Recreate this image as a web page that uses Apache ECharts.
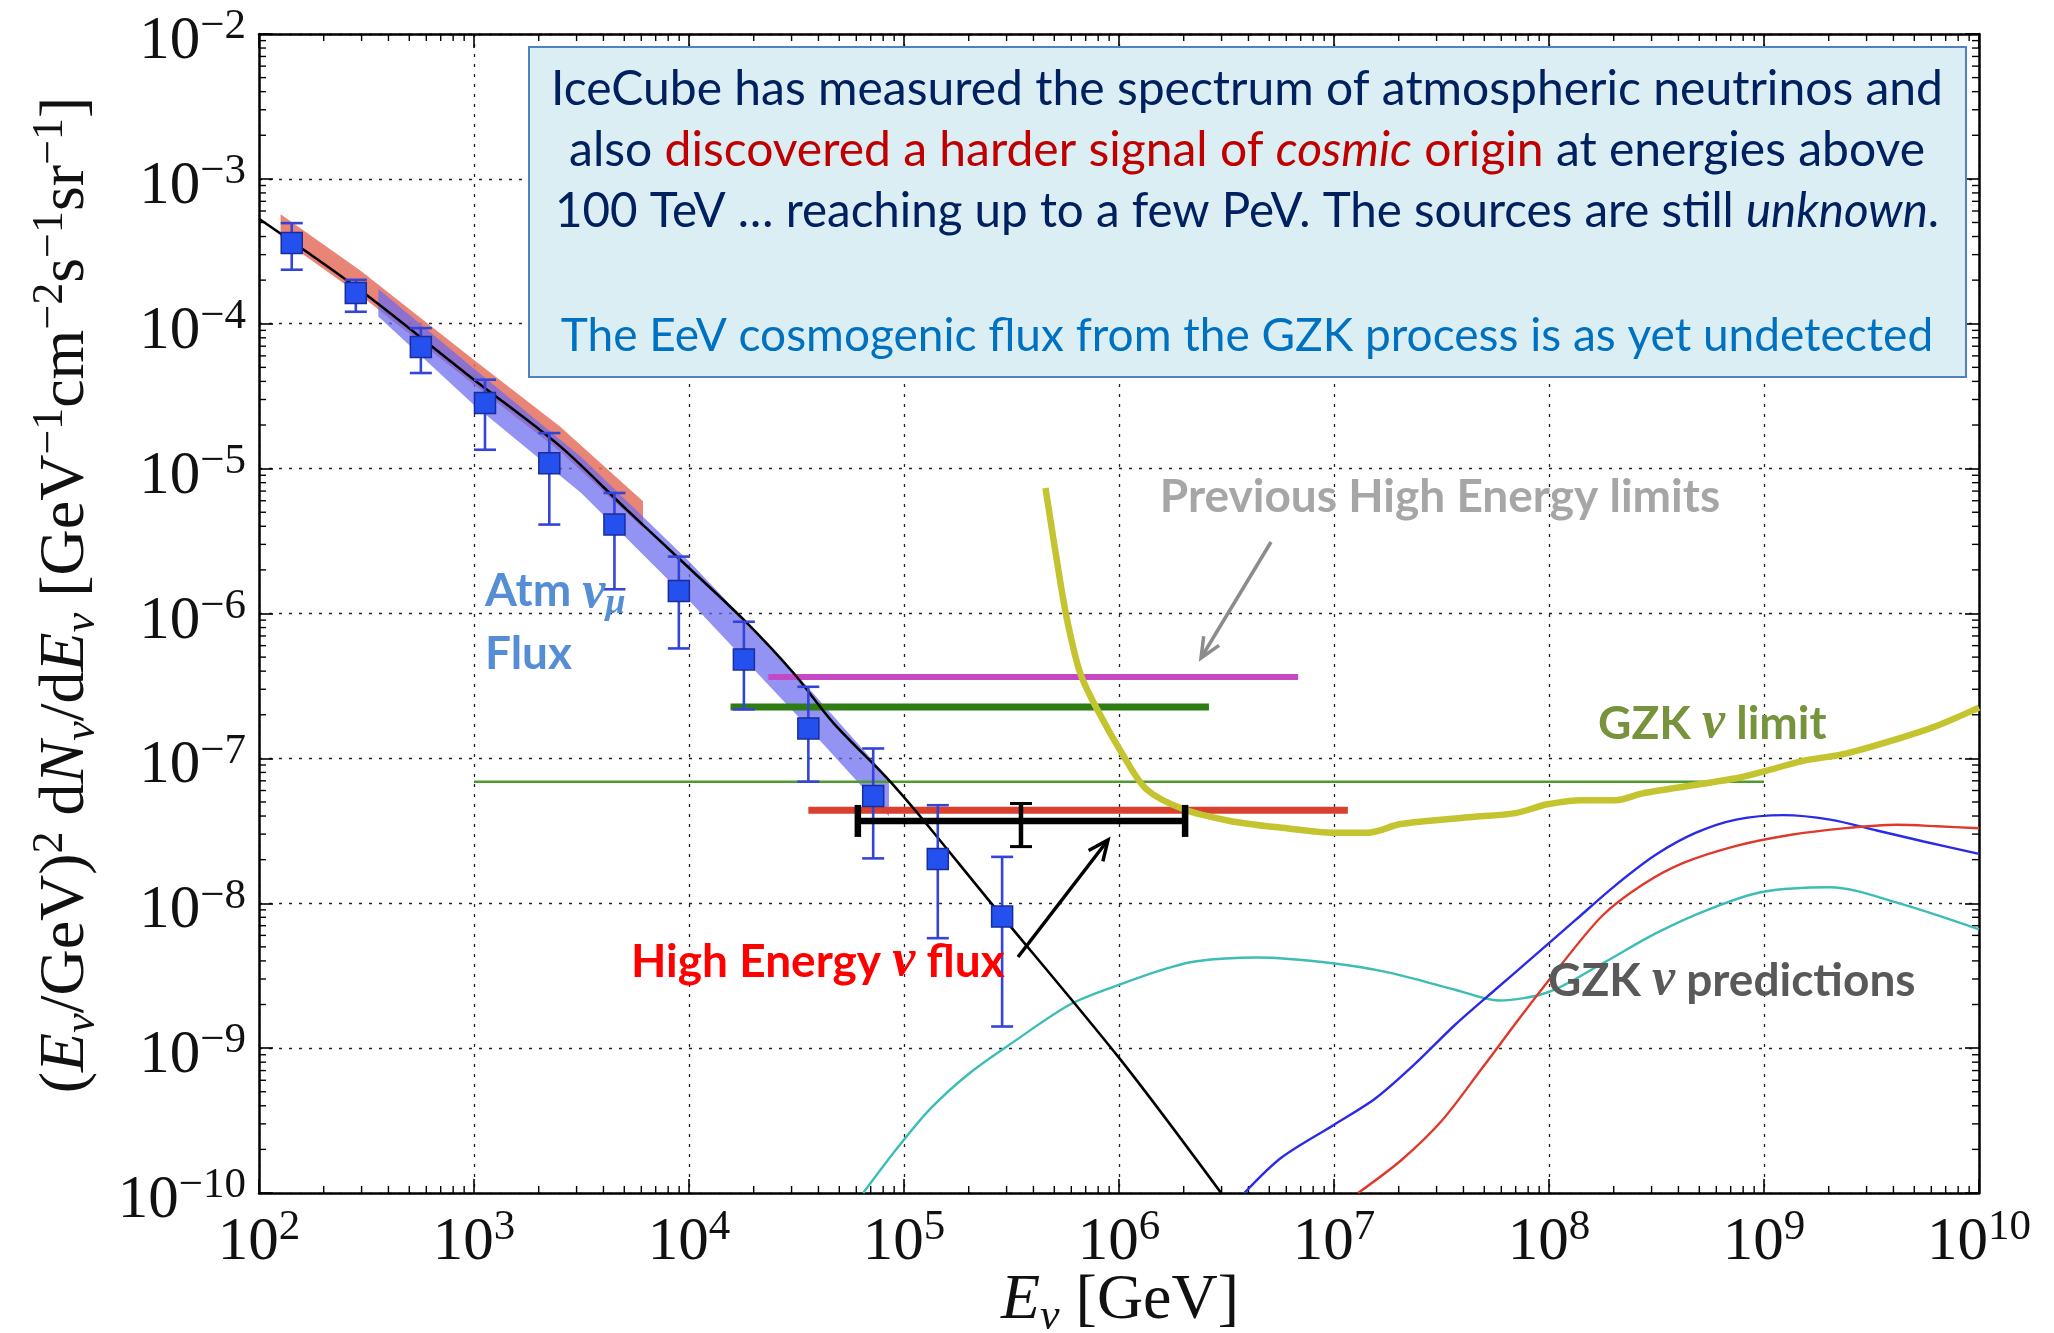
<!DOCTYPE html>
<html>
<head>
<meta charset="utf-8">
<script src="https://cdn.jsdelivr.net/npm/echarts@6/dist/echarts.min.js"></script>
<style>
  html, body { margin: 0; padding: 0; background: #ffffff; }
  #chart { width: 2054px; height: 1333px; }
</style>
</head>
<body>
<div id="chart"></div>
<script>
// Energies in GeV, fluxes as E^2 dN/dE in GeV cm^-2 s^-1 sr^-1

// IceCube unfolded atmospheric numu spectrum
const atmEnergy   = [142, 282, 566, 1125, 2240, 4500, 8970, 18000, 35900, 71900, 143600, 286000];
const atmFlux     = [3.61e-4, 1.63e-4, 6.9e-5, 2.84e-5, 1.09e-5, 4.11e-6, 1.43e-6, 4.82e-7, 1.61e-7, 5.5e-8, 2.02e-8, 8.09e-9];
const atmFluxLow  = [2.36e-4, 1.21e-4, 4.57e-5, 1.35e-5, 4.11e-6, 1.47e-6, 5.74e-7, 2.18e-7, 6.9e-8, 2.04e-8, 5.74e-9, 1.41e-9];
const atmFluxHigh = [4.95e-4, 2.01e-4, 9.33e-5, 4.11e-5, 1.76e-5, 6.79e-6, 2.47e-6, 8.77e-7, 3.12e-7, 1.17e-7, 4.75e-8, 2.09e-8];

// conventional atmospheric model (black curve)
const modelEnergy = [100, 295, 1000, 2512, 5129, 9078, 17910, 30550, 46880, 82990, 118600, 242700, 1.012e6, 2.985e6];
const modelFlux   = [5.31e-4, 1.71e-4, 4.11e-5, 1.43e-5, 5.21e-6, 2.36e-6, 9.10e-7, 3.90e-7, 1.76e-7, 7.36e-8, 4.0e-8, 1.09e-8, 8.39e-10, 1.0e-10];

// earlier unfolding bands (red) and IceCube-40 band (blue)
const redBandEnergy = [126, 295, 1000, 2512, 6110];
const redBandLow    = [3.89e-4, 1.58e-4, 3.80e-5, 1.32e-5, 3.89e-6];
const redBandHigh   = [5.70e-4, 2.34e-4, 5.61e-5, 1.95e-5, 5.96e-6];
const blueBandEnergy = [359, 1000, 3162, 10000, 31620, 85110];
const blueBandLow    = [1.12e-4, 2.75e-5, 6.76e-6, 1.23e-6, 2.0e-7, 3.98e-8];
const blueBandHigh   = [1.74e-4, 4.90e-5, 1.20e-5, 2.29e-6, 3.80e-7, 7.24e-8];

// previous high-energy limits: magenta, dark green, thin green, red
const limitLevel = [3.64e-7, 2.26e-7, 6.9e-8, 4.38e-8];
const limitEmin  = [2.34e4, 1.56e4, 1e3, 3.59e4];
const limitEmax  = [6.81e6, 2.62e6, 1e9, 1.16e7];

// high-energy astrophysical flux: level, energy range, central energy and vertical error
const heFlux = [3.70e-8];
const heEmin = [6.1e4];
const heEmax = [2.03e6];
const heEmid = [3.5e5];
const heFluxLow  = [2.46e-8];
const heFluxHigh = [4.88e-8];

// GZK neutrino limit (yellow)
const gzkLimitEnergy = [4.55e5, 5.22e5, 5.73e5, 6.59e5, 7.91e5, 1.045e6, 1.343e6, 2.0e6, 3.28e6, 5.61e6, 1.0e7, 1.445e7, 2.04e7, 4.23e7, 6.98e7, 9.84e7, 1.429e8, 2.05e8, 2.72e8, 4.83e8, 7.43e8, 9.89e8, 1.52e9, 2.34e9, 4.15e9, 6.38e9, 1.0e10];
const gzkLimitFlux   = [7.36e-6, 2.01e-6, 9.10e-7, 3.90e-7, 2.18e-7, 1.05e-7, 6.11e-8, 4.45e-8, 3.70e-8, 3.33e-8, 3.07e-8, 3.07e-8, 3.52e-8, 3.92e-8, 4.19e-8, 4.82e-8, 5.15e-8, 5.15e-8, 5.73e-8, 6.58e-8, 7.29e-8, 8.09e-8, 9.62e-8, 1.07e-7, 1.36e-7, 1.68e-7, 2.24e-7];

// GZK neutrino predictions
const gzkBlueEnergy = [3.83e6, 5.68e6, 9.93e6, 1.55e7, 2.38e7, 3.66e7, 5.62e7, 8.65e7, 1.33e8, 2.05e8, 3.15e8, 4.83e8, 7.43e8, 1.23e9, 2.03e9, 3.35e9, 5.53e9, 1.0e10];
const gzkBlueFlux   = [1e-10, 1.75e-10, 2.94e-10, 4.47e-10, 7.78e-10, 1.45e-9, 2.53e-9, 4.40e-9, 7.67e-9, 1.34e-8, 2.17e-8, 3.07e-8, 3.78e-8, 4.06e-8, 3.78e-8, 3.18e-8, 2.67e-8, 2.19e-8];
const gzkRedEnergy = [1.294e7, 2.06e7, 3.17e7, 4.88e7, 7.50e7, 1.151e8, 1.77e8, 2.72e8, 4.19e8, 7.43e8, 1.318e9, 2.34e9, 4.15e9, 6.38e9, 1.0e10];
const gzkRedFlux   = [1e-10, 1.69e-10, 3.15e-10, 7.26e-10, 1.70e-9, 3.84e-9, 8.20e-9, 1.34e-8, 1.89e-8, 2.49e-8, 2.96e-8, 3.29e-8, 3.48e-8, 3.40e-8, 3.29e-8];
const gzkCyanEnergy = [6.46e4, 9.23e4, 1.321e5, 2.03e5, 3.22e5, 5.92e5, 1.012e6, 1.585e6, 2.29e6, 4.37e6, 1.007e7, 1.786e7, 3.66e7, 5.83e7, 9.98e7, 1.77e8, 3.15e8, 5.58e8, 9.91e8, 2.03e9, 4.15e9, 1.0e10];
const gzkCyanFlux   = [1e-10, 2.01e-10, 3.79e-10, 6.76e-10, 1.10e-9, 2.0e-9, 2.75e-9, 3.47e-9, 3.98e-9, 4.22e-9, 3.84e-9, 3.33e-9, 2.53e-9, 2.13e-9, 2.44e-9, 3.84e-9, 6.22e-9, 9.12e-9, 1.20e-8, 1.29e-8, 1.01e-8, 6.61e-9];

// axis ranges (decades)
const xExpMin = 2, xExpMax = 10;
const yExpMin = -10, yExpMax = -2;

const zip = (a, b) => a.map((v, i) => [v, b[i]]);

// minor tick values 2..9 x 10^k
function minorValues(e0, e1) {
  const out = [];
  for (let e = e0; e < e1; e++) for (let m = 2; m <= 9; m++) out.push(m * Math.pow(10, e));
  return out;
}
const xMinor = minorValues(xExpMin, xExpMax);
const yMinor = minorValues(yExpMin, yExpMax);

const SERIF = 'Liberation Serif';
const SANS = 'Lato';

function powLabel(v) {
  const e = Math.round(Math.log10(v));
  return '{b|10}{s|' + String(e).replace('-', '\u2212') + '}';
}
const tickRich = {
  b: { fontFamily: SERIF, fontSize: 61, color: '#111', lineHeight: 67, verticalAlign: 'bottom' },
  s: { fontFamily: SERIF, fontSize: 43, color: '#111', lineHeight: 43, verticalAlign: 'top' }
};

const axisLineStyle = { color: '#000', width: 2.5 };
const gridDash = { color: '#222', width: 1.3, type: [3, 7] };

function bandSeries(energy, low, high, color, opacity, z) {
  return {
    type: 'custom', z: z, silent: true,
    data: energy.map((e, i) => [e, low[i], high[i]]),
    encode: { x: 0, y: [1, 2] },
    renderItem(params, api) {
      if (params.dataIndex !== 0) return null;
      const pts = [];
      for (let i = 0; i < energy.length; i++) pts.push(api.coord([energy[i], high[i]]));
      for (let i = energy.length - 1; i >= 0; i--) pts.push(api.coord([energy[i], low[i]]));
      return { type: 'polygon', shape: { points: pts }, style: { fill: color, opacity: opacity } };
    }
  };
}

function limitSeries(i, color, width) {
  return {
    type: 'line', z: 4, silent: true, showSymbol: false,
    data: [[limitEmin[i], limitLevel[i]], [limitEmax[i], limitLevel[i]]],
    lineStyle: { color: color, width: width }
  };
}

function curveSeries(energy, flux, color, width, z) {
  return {
    type: 'line', z: z, silent: true, showSymbol: false, smooth: 0.3,
    data: zip(energy, flux),
    lineStyle: { color: color, width: width }
  };
}

function arrowElements(x1, y1, x2, y2, color) {
  const ang = Math.atan2(y2 - y1, x2 - x1);
  const L = 22, a = 0.42;
  return [
    { type: 'line', z: 120, shape: { x1, y1, x2, y2 }, style: { stroke: color, lineWidth: 3.5 } },
    { type: 'polyline', z: 120, shape: { points: [
        [x2 - L * Math.cos(ang - a), y2 - L * Math.sin(ang - a)], [x2, y2],
        [x2 - L * Math.cos(ang + a), y2 - L * Math.sin(ang + a)] ] },
      style: { stroke: color, lineWidth: 3.5, fill: null } }
  ];
}

const NAVY = '#002060', DRED = '#c00000', LBLUE = '#0070c0';
function boxRich(size) {
  return {
    n:  { fill: NAVY, fontFamily: SANS, fontSize: size },
    ni: { fill: NAVY, fontFamily: SANS, fontSize: size, fontStyle: 'italic' },
    r:  { fill: DRED, fontFamily: SANS, fontSize: size },
    ri: { fill: DRED, fontFamily: SANS, fontSize: size, fontStyle: 'italic' },
    l:  { fill: LBLUE, fontFamily: SANS, fontSize: size }
  };
}

const annoSize = 46;
function annoRich(color) {
  return {
    a: { fill: color, fontFamily: SANS, fontSize: annoSize, fontWeight: 'bold', lineHeight: 54, verticalAlign: 'middle' },
    g: { fill: color, fontFamily: SERIF, fontSize: 52, fontWeight: 'bold', fontStyle: 'italic', lineHeight: 54, verticalAlign: 'middle' }
  };
}

const titleRich = {
  p:  { fill: '#111', fontFamily: SERIF, fontSize: 64, lineHeight: 76, verticalAlign: 'middle' },
  i:  { fill: '#111', fontFamily: SERIF, fontSize: 64, fontStyle: 'italic', lineHeight: 76, verticalAlign: 'middle' },
  sp: { fill: '#111', fontFamily: SERIF, fontSize: 44, lineHeight: 44, verticalAlign: 'top' },
  sb: { fill: '#111', fontFamily: SERIF, fontSize: 44, fontStyle: 'italic', lineHeight: 44, verticalAlign: 'bottom' }
};

const atmColor = '#558ed5';
const graphics = [
  // text box
  { type: 'rect', z: 100, shape: { x: 529, y: 47, width: 1437, height: 330 },
    style: { fill: '#daeef3', stroke: '#4f81bd', lineWidth: 2 } },
  { type: 'text', z: 101, x: 1247, y: 90, style: { text: '{n|IceCube has measured the spectrum of atmospheric neutrinos and}', rich: boxRich(48), align: 'center', verticalAlign: 'middle' } },
  { type: 'text', z: 101, x: 1247, y: 151, style: { text: '{n|also }{r|discovered a harder signal of }{ri|cosmic}{r| origin}{n| at energies above}', rich: boxRich(48), align: 'center', verticalAlign: 'middle' } },
  { type: 'text', z: 101, x: 1247, y: 212, style: { text: '{n|100 TeV \u2026 reaching up to a few PeV. The sources are still }{ni|unknown}{n|.}', rich: boxRich(47.5), align: 'center', verticalAlign: 'middle' } },
  { type: 'text', z: 101, x: 1247, y: 336, style: { text: '{l|The EeV cosmogenic flux from the GZK process is as yet undetected}', rich: boxRich(46), align: 'center', verticalAlign: 'middle' } },

  // annotations
  { type: 'text', z: 110, x: 485, y: 568, style: {
      text: '{a|Atm }{g|\u03bd}{gs|\u03bc}', align: 'left', verticalAlign: 'top',
      rich: {
        a: { fill: atmColor, fontFamily: SANS, fontSize: annoSize, fontWeight: 'bold', lineHeight: 54, verticalAlign: 'top' },
        g: { fill: atmColor, fontFamily: SERIF, fontSize: 52, fontWeight: 'bold', fontStyle: 'italic', lineHeight: 54, verticalAlign: 'top' },
        gs: { fill: atmColor, fontFamily: SERIF, fontSize: 36, fontWeight: 'bold', fontStyle: 'italic', lineHeight: 36, padding: [29, 0, 0, 0], verticalAlign: 'bottom' }
      } } },
  { type: 'text', z: 110, x: 485, y: 654, style: { text: '{a|Flux}', rich: annoRich(atmColor), align: 'left', verticalAlign: 'middle' } },
  { type: 'text', z: 110, x: 1440, y: 497, style: { text: '{a|Previous High Energy limits}', rich: annoRich('#a6a6a6'), align: 'center', verticalAlign: 'middle' } },
  { type: 'text', z: 110, x: 1598, y: 724, style: { text: '{a|GZK }{g|\u03bd}{a| limit}', rich: annoRich('#77933c'), align: 'left', verticalAlign: 'middle' } },
  { type: 'text', z: 110, x: 631, y: 962, style: { text: '{a|High Energy }{g|\u03bd}{a| flux}', rich: annoRich('#ff0000'), align: 'left', verticalAlign: 'middle' } },
  { type: 'text', z: 110, x: 1548, y: 981, style: { text: '{a|GZK }{g|\u03bd}{a| predictions}', rich: annoRich('#595959'), align: 'left', verticalAlign: 'middle' } },
  ...arrowElements(1271, 542, 1201, 658, '#8c8c8c'),
  ...arrowElements(1018, 957, 1108, 840, '#000000'),

  // axis titles
  { type: 'text', z: 110, x: 66, y: 595, rotation: Math.PI / 2, style: {
      text: '{p|(}{i|E}{sb|\u03bd}{p|/GeV)}{sp|2}{p| d}{i|N}{sb|\u03bd}{p|/d}{i|E}{sb|\u03bd}{p| [GeV}{sp|\u22121}{p|cm}{sp|\u22122}{p|s}{sp|\u22121}{p|sr}{sp|\u22121}{p|]}',
      rich: titleRich, align: 'center', verticalAlign: 'middle' } },
  { type: 'text', z: 110, x: 1120, y: 1301, style: {
      text: '{i|E}{sb|\u03bd}{p| [GeV]}', rich: titleRich, align: 'center', verticalAlign: 'middle' } }
];

const option = {
  backgroundColor: '#ffffff',
  animation: false,
  grid: { left: 259, top: 34, right: 75, bottom: 140, containLabel: false },
  xAxis: [
    { type: 'log', logBase: 10, min: Math.pow(10, xExpMin), max: Math.pow(10, xExpMax), splitNumber: 8,
      axisLine: { onZero: false, lineStyle: axisLineStyle },
      axisTick: { inside: true, length: 14, lineStyle: { color: '#000', width: 1.6 } },
      axisLabel: { margin: 13, formatter: powLabel, rich: tickRich },
      splitLine: { show: true, lineStyle: gridDash } },
    { type: 'log', logBase: 10, position: 'top', min: Math.pow(10, xExpMin), max: Math.pow(10, xExpMax), splitNumber: 8,
      axisLine: { onZero: false, lineStyle: axisLineStyle },
      axisTick: { inside: true, length: 14, lineStyle: { color: '#000', width: 1.6 } },
      axisLabel: { show: false }, splitLine: { show: false } }
  ],
  yAxis: [
    { type: 'log', logBase: 10, min: Math.pow(10, yExpMin), max: Math.pow(10, yExpMax), splitNumber: 8,
      axisLine: { onZero: false, lineStyle: axisLineStyle },
      axisTick: { inside: true, length: 14, lineStyle: { color: '#000', width: 1.6 } },
      axisLabel: { margin: 13, formatter: powLabel, rich: tickRich, padding: [10, 0, 0, 0] },
      splitLine: { show: true, lineStyle: gridDash } },
    { type: 'log', logBase: 10, position: 'right', min: Math.pow(10, yExpMin), max: Math.pow(10, yExpMax), splitNumber: 8,
      axisLine: { onZero: false, lineStyle: axisLineStyle },
      axisTick: { inside: true, length: 14, lineStyle: { color: '#000', width: 1.6 } },
      axisLabel: { show: false }, splitLine: { show: false } }
  ],
  graphic: { elements: graphics },
  series: [
    // minor ticks on all four sides
    { type: 'custom', z: 3, silent: true, data: xMinor.map(v => [v, 1e-6]), encode: { x: 0, y: 1 },
      renderItem(params, api) {
        const v = api.value(0);
        const b = api.coord([v, Math.pow(10, yExpMin)]);
        const t = api.coord([v, Math.pow(10, yExpMax)]);
        const st = { stroke: '#000', lineWidth: 1.4 };
        return { type: 'group', children: [
          { type: 'line', shape: { x1: b[0], y1: b[1], x2: b[0], y2: b[1] - 7 }, style: st },
          { type: 'line', shape: { x1: t[0], y1: t[1], x2: t[0], y2: t[1] + 7 }, style: st } ] };
      } },
    { type: 'custom', z: 3, silent: true, data: yMinor.map(v => [1e6, v]), encode: { x: 0, y: 1 },
      renderItem(params, api) {
        const v = api.value(1);
        const l = api.coord([Math.pow(10, xExpMin), v]);
        const r = api.coord([Math.pow(10, xExpMax), v]);
        const st = { stroke: '#000', lineWidth: 1.4 };
        return { type: 'group', children: [
          { type: 'line', shape: { x1: l[0], y1: l[1], x2: l[0] + 7, y2: l[1] }, style: st },
          { type: 'line', shape: { x1: r[0], y1: r[1], x2: r[0] - 7, y2: r[1] }, style: st } ] };
      } },

    // spectrum bands
    bandSeries(redBandEnergy, redBandLow, redBandHigh, '#e4705e', 0.85, 2),
    bandSeries(blueBandEnergy, blueBandLow, blueBandHigh, '#6a6af0', 0.72, 2),

    // previous limits
    limitSeries(0, '#c548c5', 6),
    limitSeries(1, '#2e7d14', 7),
    limitSeries(2, '#4c9b2c', 2.5),
    limitSeries(3, '#d9402e', 7),

    // GZK predictions
    curveSeries(gzkCyanEnergy, gzkCyanFlux, '#3dbdb5', 2.4, 4),
    curveSeries(gzkBlueEnergy, gzkBlueFlux, '#2b2be6', 2.4, 4),
    curveSeries(gzkRedEnergy, gzkRedFlux, '#de3a2c', 2.4, 4),

    // atmospheric model
    curveSeries(modelEnergy, modelFlux, '#000000', 2.6, 5),

    // data error bars
    { type: 'custom', z: 6, silent: true,
      data: atmEnergy.map((e, i) => [e, atmFlux[i], atmFluxLow[i], atmFluxHigh[i]]),
      encode: { x: 0, y: [1, 2, 3] },
      renderItem(params, api) {
        const x = api.value(0);
        const lo = api.coord([x, api.value(2)]);
        const hi = api.coord([x, api.value(3)]);
        const hw = 11;
        const st = { stroke: '#3444d6', lineWidth: 2.6 };
        return { type: 'group', children: [
          { type: 'line', shape: { x1: lo[0], y1: lo[1], x2: hi[0], y2: hi[1] }, style: st },
          { type: 'line', shape: { x1: lo[0] - hw, y1: lo[1], x2: lo[0] + hw, y2: lo[1] }, style: st },
          { type: 'line', shape: { x1: hi[0] - hw, y1: hi[1], x2: hi[0] + hw, y2: hi[1] }, style: st } ] };
      } },
    // data points
    { type: 'scatter', z: 7, silent: true, symbol: 'rect', symbolSize: 21,
      data: zip(atmEnergy, atmFlux),
      itemStyle: { color: '#2450ee', borderColor: '#1a2c9c', borderWidth: 1.5, opacity: 1 } },

    // GZK limit
    curveSeries(gzkLimitEnergy, gzkLimitFlux, '#c4c430', 6.5, 8),

    // high-energy flux bar
    { type: 'custom', z: 9, silent: true,
      data: heFlux.map((f, i) => [heEmin[i], f, heEmax[i], heEmid[i], heFluxLow[i], heFluxHigh[i]]),
      encode: { x: [0, 2, 3], y: [1, 4, 5] },
      renderItem(params, api) {
        const f = api.value(1);
        const a = api.coord([api.value(0), f]);
        const b = api.coord([api.value(2), f]);
        const m = api.coord([api.value(3), f]);
        const ml = api.coord([api.value(3), api.value(4)]);
        const mh = api.coord([api.value(3), api.value(5)]);
        const thick = { stroke: '#000', lineWidth: 6.5 };
        const mid = { stroke: '#000', lineWidth: 4.5 };
        return { type: 'group', children: [
          { type: 'line', shape: { x1: a[0], y1: a[1], x2: b[0], y2: b[1] }, style: thick },
          { type: 'line', shape: { x1: a[0], y1: a[1] - 16, x2: a[0], y2: a[1] + 16 }, style: thick },
          { type: 'line', shape: { x1: b[0], y1: b[1] - 16, x2: b[0], y2: b[1] + 16 }, style: thick },
          { type: 'line', shape: { x1: m[0], y1: ml[1], x2: m[0], y2: mh[1] }, style: mid },
          { type: 'line', shape: { x1: m[0] - 11, y1: ml[1], x2: m[0] + 11, y2: ml[1] }, style: { stroke: '#000', lineWidth: 3 } },
          { type: 'line', shape: { x1: m[0] - 11, y1: mh[1], x2: m[0] + 11, y2: mh[1] }, style: { stroke: '#000', lineWidth: 3 } } ] };
      } }
  ]
};

const chart = echarts.init(document.getElementById('chart'), null, { renderer: 'canvas', width: 2054, height: 1333 });
chart.setOption(option);
</script>
</body>
</html>
